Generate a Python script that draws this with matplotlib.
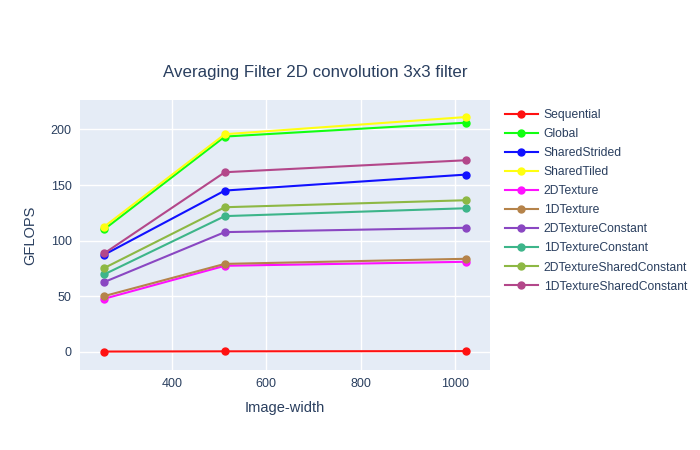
import matplotlib
matplotlib.use("Agg")
import matplotlib.pyplot as plt

plt.rcParams['font.family'] = ['Liberation Sans', 'DejaVu Sans']

image_width = [256, 512, 1024]
series_names = ["Sequential", "Global", "SharedStrided", "SharedTiled", "2DTexture",
                "1DTexture", "2DTextureConstant", "1DTextureConstant",
                "2DTextureSharedConstant", "1DTextureSharedConstant"]
sequential = [0.1, 0.3, 0.5]
global_ = [110.0, 193.6, 206.1]
shared_strided = [87.2, 145.0, 159.4]
shared_tiled = [112.4, 195.7, 211.2]
tex2d = [47.6, 77.3, 80.9]
tex1d = [50.0, 79.0, 83.6]
tex2d_const = [62.6, 107.6, 111.5]
tex1d_const = [69.5, 122.0, 129.1]
tex2d_shared_const = [75.2, 130.0, 136.3]
tex1d_shared_const = [88.4, 161.5, 172.3]
values = [sequential, global_, shared_strided, shared_tiled, tex2d, tex1d,
          tex2d_const, tex1d_const, tex2d_shared_const, tex1d_shared_const]
colors = ["#ff1111", "#11ff11", "#1111ff", "#ffff11", "#ff11ff", "#b5834a",
          "#8a47c2", "#3db58a", "#8db844", "#b3478a"]

text_color = "#2a3f5f"
fig = plt.figure(figsize=(7, 4.5), dpi=100)
ax = fig.add_axes([80/700, 80/450, 410/700, 270/450])
ax.set_facecolor("#e5ecf6")
for s in ax.spines.values():
    s.set_visible(False)
ax.grid(True, color="white", linewidth=1)
ax.set_axisbelow(True)

for name, vals, c in zip(series_names, values, colors):
    ax.plot(image_width, vals, color=c, linewidth=1.5, marker='o', markersize=5,
            label=name)

ax.set_xlim(205, 1074)
ax.set_ylim(-16.5, 226.5)
ax.set_xticks([400, 600, 800, 1000])
ax.set_yticks([0, 50, 100, 150, 200])
ax.tick_params(length=0, labelsize=9, labelcolor=text_color, pad=6)
ax.set_xlabel("Image-width", fontsize=10.5, color=text_color, labelpad=8)
ax.set_ylabel("GFLOPS", fontsize=10.5, color=text_color, labelpad=10)
fig.text(315/700, 1 - 73/450, "Averaging Filter 2D convolution 3x3 filter",
         ha='center', va='center', fontsize=12.2, color=text_color)

leg = ax.legend(loc='upper left', bbox_to_anchor=((505-80)/410, (370-109)/270),
                frameon=False, fontsize=8.7, labelcolor=text_color,
                handlelength=2.7, handletextpad=0.5, labelspacing=0.585,
                borderaxespad=0, borderpad=0)
fig.savefig("out.png", dpi=100, facecolor="white")
